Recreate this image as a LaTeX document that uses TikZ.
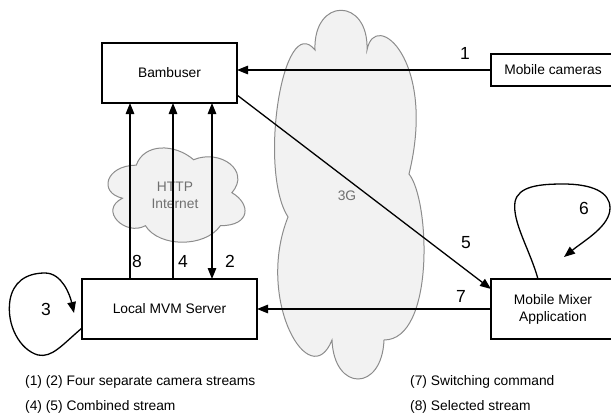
\documentclass[tikz,border=0pt]{standalone}
\usepackage{fontspec}
\setmainfont{Liberation Sans}
\usetikzlibrary{arrows.meta}
\definecolor{cloudfill}{HTML}{F2F2F2}
\definecolor{cloudline}{HTML}{8C8C8C}
\definecolor{cloudtext}{HTML}{707070}
\tikzset{
  box/.style={draw=black, line width=1.3pt, fill=white, inner sep=0pt, outer sep=0pt,
    align=center, font=\fontsize{13.8}{17}\selectfont},
  numlbl/.style={inner sep=0pt, font=\fontsize{17.5}{20}\selectfont},
  legend/.style={inner sep=0pt, anchor=west, font=\fontsize{13.8}{17}\selectfont},
  cloudtxt/.style={inner sep=0pt, align=center, text=cloudtext, font=\fontsize{13.8}{17}\selectfont},
  cloudsty/.style={draw=cloudline, fill=cloudfill, line width=1pt},
  arr/.style={line width=1.3pt, -{Triangle[length=11pt,width=8.5pt]}},
  biarr/.style={line width=1.3pt, {Triangle[length=11pt,width=8.5pt]}-{Triangle[length=11pt,width=8.5pt]}},
  loopline/.style={line width=1.3pt}
}
\begin{document}
\begin{tikzpicture}[x=1pt,y=-1pt]
\useasboundingbox (0,0) rectangle (611,416);
% 3G cloud
\draw[cloudsty] (315,50) .. controls (313,-3) and (369,-3) .. (367,50)
  .. controls (375,8) and (437,60) .. (409,174)
  .. controls (430,200) and (435,340) .. (384,340)
  .. controls (382,392) and (334,392) .. (332,340)
  .. controls (310,395) and (255,300) .. (288,217)
  .. controls (258,170) and (283,10) .. (315,50) -- cycle;
\node[cloudtxt] (g3) at (347,196) {3G};
% HTTP cloud
\draw[cloudsty] (136.25,165.2) .. controls (105.65,165.2) and (98,192.7) .. (122.5,198.2)
  .. controls (98,210.3) and (125.5,236.7) .. (145.4,225.7)
  .. controls (159.2,247.7) and (205.1,247.7) .. (220.4,225.7)
  .. controls (251,225.7) and (251,203.7) .. (231.9,192.7)
  .. controls (251,170.7) and (220.4,148.7) .. (193.6,159.7)
  .. controls (174.5,143.2) and (143.9,143.2) .. (136.25,165.2) -- cycle;
\node[cloudtxt] (http) at (175,195.5) {HTTP\\Internet};
% boxes
\node[box, minimum width=135pt, minimum height=60pt] (bam) at (169.5,73) {Bambuser};
\node[box, minimum width=175pt, minimum height=60pt] (mvm) at (169.5,309) {Local MVM Server};
\node[box, minimum width=124pt, minimum height=32pt] (mc) at (553,70) {Mobile cameras};
\node[box, minimum width=124pt, minimum height=60pt] (mma) at (553,309) {Mobile Mixer\\Application};
% connectors
\draw[arr] (mc.west) -- (mc.west -| bam.east);
\draw[arr] ([yshift=8pt]bam.south east) -- ([yshift=-10pt]mma.north west);
\draw[arr] (mma.west) -- (mvm.east);
\draw[arr] ([xshift=-39.5pt]mvm.north) -- ([xshift=-39.5pt]bam.south);
\draw[arr] ([xshift=3.5pt]mvm.north) -- ([xshift=3.5pt]bam.south);
\draw[biarr] ([xshift=42.5pt]bam.south) -- ([xshift=42.5pt]mvm.north);
% self loops
\coordinate (l3s) at ([yshift=-19pt]mvm.west);
\coordinate (l3e) at (74,313);
\draw[loopline, -{Triangle[length=11pt,width=8.5pt]}] (l3s) .. controls (62,345) and (52,358) .. (38,355)
  .. controls (20,350) and (6,325) .. (10,300)
  .. controls (13,283) and (25,273) .. (45,273)
  .. controls (62,273) and (70,295) .. (l3e);
\coordinate (l6s) at ([xshift=-15pt]mma.north);
\coordinate (l6e) at (564,257);
\draw[loopline, -{Triangle[length=11pt,width=8.5pt]}] (l6s) .. controls (530,250) and (512,222) .. (515,202)
  .. controls (518,186) and (540,184) .. (563,184)
  .. controls (592,184) and (610,192) .. (610,208)
  .. controls (610,226) and (585,240) .. (l6e);
% number labels
\node[numlbl] (n1) at (465,53) {1};
\node[numlbl] (n2) at (230,261) {2};
\node[numlbl] (n3) at (46,309) {3};
\node[numlbl] (n4) at (183,261) {4};
\node[numlbl] (n5) at (466,243) {5};
\node[numlbl] (n6) at (584,208) {6};
\node[numlbl] (n7) at (461,296) {7};
\node[numlbl] (n8) at (137,261) {8};
% legend
\node[legend] (lg1) at (25,382) {(1) (2) Four separate camera streams};
\node[legend] (lg2) at (25,407) {(4) (5) Combined stream};
\node[legend] (lg3) at (410,382) {(7) Switching command};
\node[legend] (lg4) at (410,407) {(8) Selected stream};
\end{tikzpicture}
\end{document}
